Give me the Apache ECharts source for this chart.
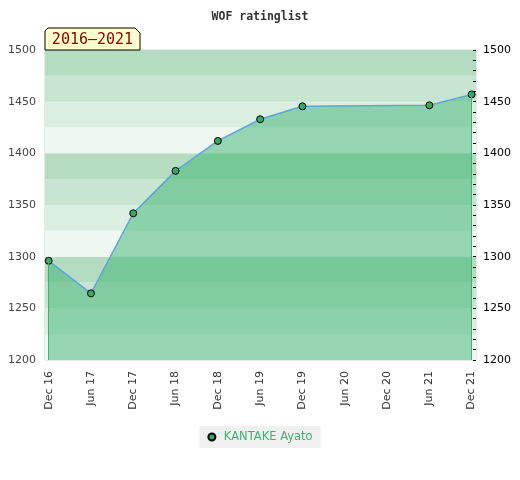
<!DOCTYPE html>
<html>
<head>
<meta charset="utf-8">
<script src="https://cdn.jsdelivr.net/npm/echarts@6/dist/echarts.min.js"></script>
<style>html,body{margin:0;padding:0;background:#fff}#c{width:520px;height:480px}</style>
</head>
<body>
<div id="c"></div>
<script>
var title = 'WOF ratinglist';
var periodTag = '2016\u20132021';
var seriesName = 'KANTAKE Ayato';
var categories = ['Dec 16','Jun 17','Dec 17','Jun 18','Dec 18','Jun 19','Dec 19','Jun 20','Dec 20','Jun 21','Dec 21'];
var ratings = [1296, 1264.5, 1342, 1383, 1412, 1433, 1445.5, null, null, 1446.5, 1457];
var yTicks = [1200, 1250, 1300, 1350, 1400, 1450, 1500];
var monthsPerCategory = 6;

var chart = echarts.init(document.getElementById('c'));
var points = categories.map(function (c, i) { return [i * monthsPerCategory, ratings[i]]; });
var valid = points.filter(function (p) { return p[1] != null; });
var first = valid[0], last = valid[valid.length - 1];
var xTickValues = categories.map(function (c, i) { return i * monthsPerCategory; });
var font = 'DejaVu Sans';

chart.setOption({
  animation: false,
  title: {
    text: title, left: 'center', top: 6,
    textStyle: { fontFamily: 'DejaVu Sans Mono', fontWeight: 'bold', fontSize: 11.5, color: '#333' }
  },
  grid: { left: 45, right: 44, top: 50, bottom: 120, show: true, borderColor: '#d4d4d4', borderWidth: 1, backgroundColor: 'transparent' },
  legend: {
    data: [{ name: seriesName, icon: 'circle' }],
    left: 'center', top: 426,
    backgroundColor: '#f0f0f0', padding: [5, 8, 5, 8],
    itemWidth: 14, itemHeight: 7, itemGap: 6,
    textStyle: { color: '#3cb371', fontSize: 11.5, fontFamily: font }
  },
  xAxis: {
    type: 'value', min: -0.52, max: 60.62,
    axisLine: { show: false }, axisTick: { show: false }, splitLine: { show: false },
    axisLabel: {
      customValues: xTickValues, rotate: 90, margin: 11,
      fontFamily: font, fontSize: 11, color: '#333',
      formatter: function (v) { return categories[Math.round(v / monthsPerCategory)] || ''; }
    }
  },
  yAxis: [
    {
      type: 'value', position: 'left', min: 1200, max: 1500, interval: 25,
      axisLine: { show: false }, axisTick: { show: false }, splitLine: { show: false },
      splitArea: { show: true, areaStyle: { color: ['#eef7f1', '#dbeee2', '#c8e5d1', '#b3dcc1'] } },
      axisLabel: {
        fontFamily: font, fontSize: 11, color: '#444', margin: 9,
        formatter: function (v) { return yTicks.indexOf(v) >= 0 ? String(v) : ''; }
      }
    },
    {
      type: 'value', position: 'right', min: 1200, max: 1500, interval: 50,
      axisLine: { show: false }, splitLine: { show: false },
      axisTick: { show: true, inside: true, length: 3, lineStyle: { color: '#000' } },
      minorTick: { show: true, splitNumber: 5, length: 3, lineStyle: { color: '#000' } },
      minorSplitLine: { show: false },
      axisLabel: { fontFamily: font, fontSize: 11, color: '#000', margin: 7, formatter: function (v) { return String(v); } }
    }
  ],
  series: [{
    name: seriesName, type: 'line', data: points, connectNulls: true,
    symbol: 'circle', symbolSize: 7,
    itemStyle: { color: '#34a864', borderColor: '#000', borderWidth: 1 },
    lineStyle: { color: '#5da5da', width: 1.5 },
    areaStyle: { color: '#3cb371', opacity: 0.5 },
    markLine: {
      silent: true, symbol: 'none', label: { show: false },
      lineStyle: { color: '#3cb371', width: 1, type: 'solid' },
      data: [
        [{ coord: [first[0], first[1]] }, { coord: [first[0], 1200] }],
        [{ coord: [last[0], last[1]] }, { coord: [last[0], 1200] }]
      ]
    }
  }],
  graphic: [
    {
      type: 'polygon', z: 100,
      shape: { points: [[45, 50], [45, 31], [48, 28], [135, 28], [140, 33], [140, 50]] },
      style: { fill: '#ffffcc', stroke: '#000', lineWidth: 1 }
    },
    {
      type: 'text', z: 101, x: 92.5, y: 40,
      style: { text: periodTag, fill: '#8b0000', font: '15px "DejaVu Sans Mono"', align: 'center', verticalAlign: 'middle' }
    }
  ]
});
</script>
</body>
</html>
